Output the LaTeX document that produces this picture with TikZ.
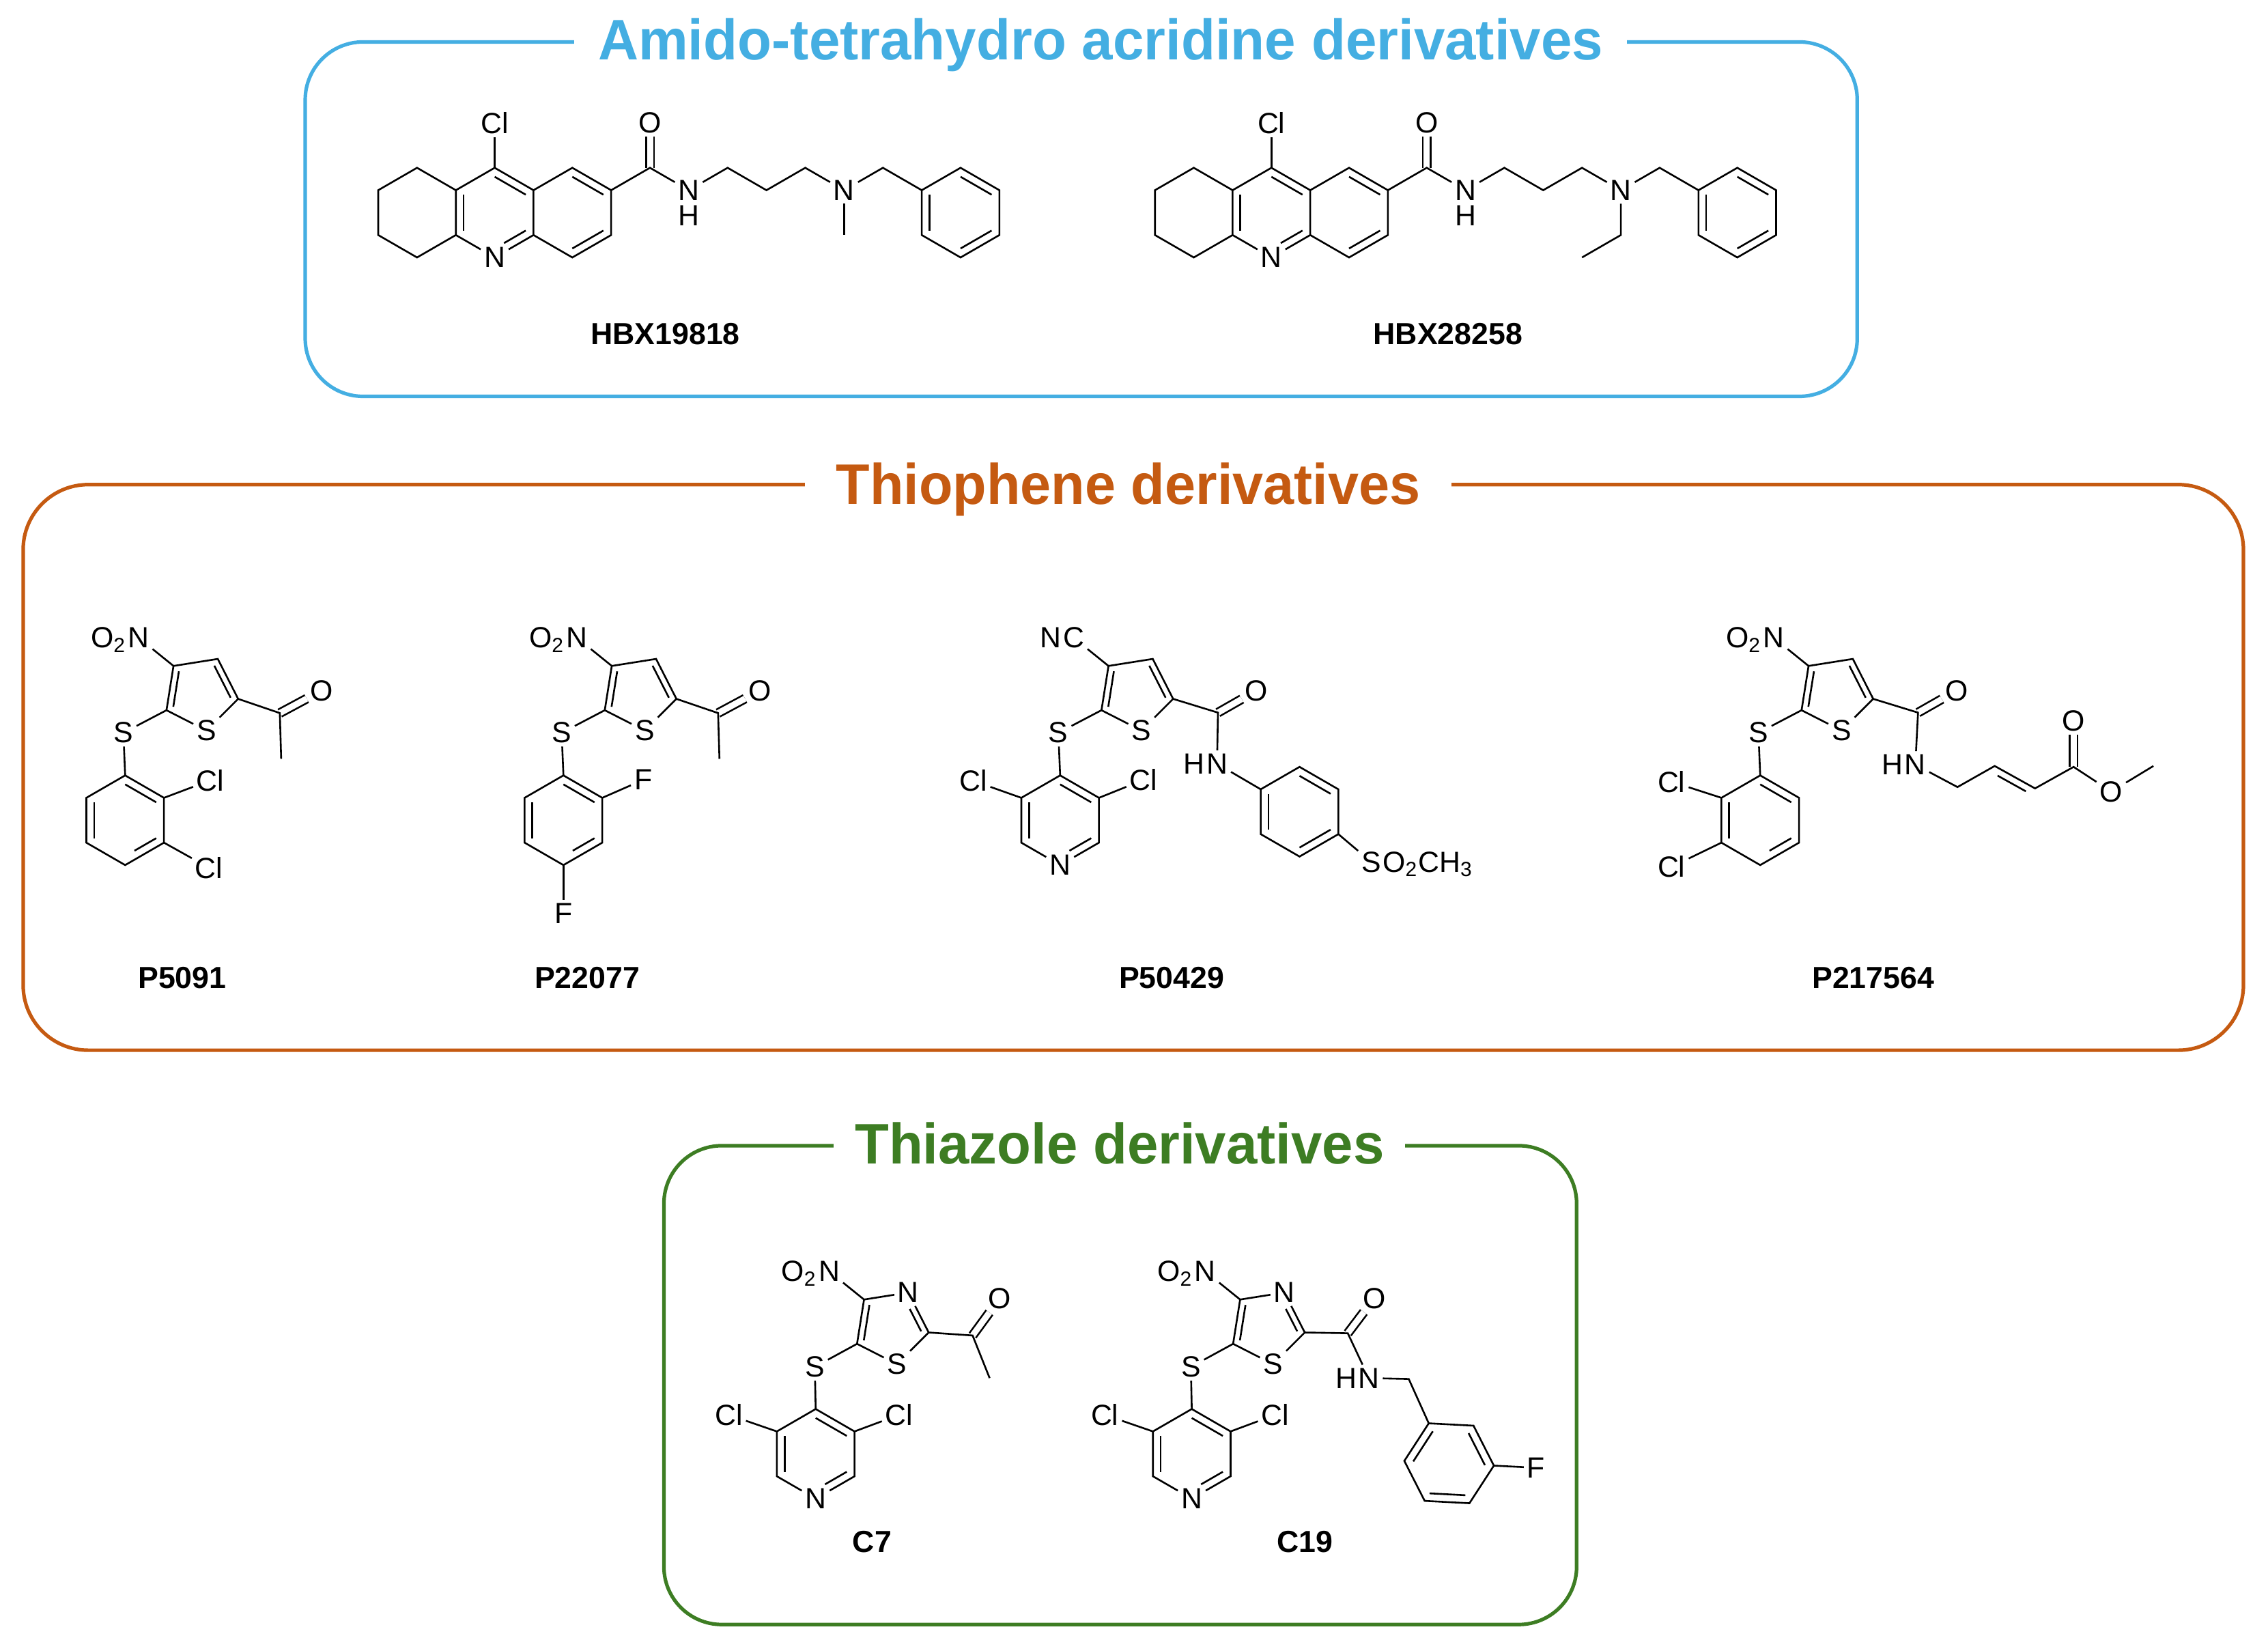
\documentclass[tikz,border=0pt]{standalone}
\usepackage{fontspec}
\usepackage{graphicx}
\setmainfont{Liberation Sans}
\usetikzlibrary{calc}
\definecolor{cblue}{RGB}{68,174,226}
\definecolor{corange}{RGB}{197,90,17}
\definecolor{cgreen}{RGB}{61,125,35}
\newcommand\hexat[4]{\coordinate (#1c) at (#2,#3);\foreach \k in {0,...,5}{\coordinate (#1\k) at ({#2+cos(#4+60*\k)},{#3+sin(#4+60*\k)});}}
\newcommand\pentat[5]{\coordinate (#1c) at (#2,#3);\foreach \k in {0,...,4}{\coordinate (#1\k) at ({#2+#4*cos(#5+72*\k)},{#3+#4*sin(#5+72*\k)});}}
\newcommand\inb[3]{\draw ($(#1)!0.2!(#3)$) -- ($(#2)!0.2!(#3)$);}
\newcommand\inbN[3]{\coordinate (tmpA) at ($(#1)!0.2!(#3)$);\coordinate (tmpB) at ($(#2)!0.2!(#3)$);\draw ($(tmpA)!0.3!(tmpB)$) -- (tmpB);}
\newcommand\ttl[2]{\resizebox{#1}{\height}{\fontsize{22.5}{26}\selectfont\bfseries #2}}
% acridine scaffold
\newcommand\acrid[1]{%
\hexat{#1m}{0}{-1}{90}\hexat{#1l}{-1.732}{-1}{90}\hexat{#1r}{1.732}{-1}{90}\hexat{#1b}{10.392}{-1}{30}%
\node[atom] (#1N) at (#1m3) {N};
\node[atom] (#1Cl) at (0,1) {Cl};
\coordinate (#1ac) at (3.464,0);
\node[atom] (#1O) at (3.464,1) {O};
\node[atom] (#1NH) at (4.33,-0.5) {N};
\node[sub,anchor=north] (#1H) at ([yshift=-0.5pt]#1NH.south) {H};
\coordinate (#1c1) at (5.196,0);
\coordinate (#1c2) at (6.062,-0.5);
\coordinate (#1c3) at (6.928,0);
\node[atom] (#1N2) at (7.794,-0.5) {N};
\coordinate (#1ch) at (8.66,0);
\draw[dbl] (#1ac) -- (#1O);
\draw (#1m0) -- (#1m1) -- (#1m2) -- (#1N) -- (#1m4) -- (#1m5) -- (#1m0);
\draw (#1m1) -- (#1l0) -- (#1l1) -- (#1l2) -- (#1l3) -- (#1m2);
\draw (#1m5) -- (#1r0) -- (#1r5) -- (#1r4) -- (#1r3) -- (#1m4);
\draw (#1m0) -- (#1Cl);
\inb{#1m0}{#1m5}{#1mc}\inb{#1m1}{#1m2}{#1mc}\inbN{#1m3}{#1m4}{#1mc}
\inb{#1r0}{#1r5}{#1rc}\inb{#1r4}{#1r3}{#1rc}
\draw (#1r5) -- (#1ac) -- (#1NH);
\draw (#1NH) -- (#1c1) -- (#1c2) -- (#1c3) -- (#1N2) -- (#1ch) -- (#1b2);
\draw (#1b0) -- (#1b1) -- (#1b2) -- (#1b3) -- (#1b4) -- (#1b5) -- cycle;
\inb{#1b1}{#1b0}{#1bc}\inb{#1b2}{#1b3}{#1bc}\inb{#1b5}{#1b4}{#1bc}}
% thiophene core
\newcommand\thcore[3]{%
\pentat{#1t}{0}{0}{0.8507}{-81}%
\node[atom] (#1S) at (#1t0) {S};
\node[atom] (#1SL) at (-1.72,-0.89) {S};
\node[atom] (#1X) at (-1.38,1.23) {#2};
\node[sub,anchor=base east] at ([xshift=1pt]#1X.base west) {#3};
\draw (#1S) -- (#1t1) -- (#1t2) -- (#1t3) -- (#1t4) -- (#1S);
\inb{#1t1}{#1t2}{#1tc}\inb{#1t3}{#1t4}{#1tc}
\draw (#1t3) -- (#1X); \draw (#1t4) -- (#1SL);}
% thiazole core
\newcommand\tzcore[1]{%
\pentat{#1t}{0}{0}{0.8507}{-81}%
\node[atom] (#1S) at (#1t0) {S};
\node[atom] (#1N) at (#1t2) {N};
\node[atom] (#1SL) at (-1.70,-0.90) {S};
\node[atom] (#1X) at (-1.38,1.23) {N};
\node[sub,anchor=base east] at ([xshift=1pt]#1X.base west) {O\textsubscript{2}};
\draw (#1S) -- (#1t1) -- (#1N) -- (#1t3) -- (#1t4) -- (#1S);
\inbN{#1t2}{#1t1}{#1tc}\inb{#1t3}{#1t4}{#1tc}
\draw (#1t3) -- (#1X); \draw (#1t4) -- (#1SL);}
% lower aryl ring (#2 defines #1aX)
\newcommand\aryl[2]{%
\hexat{#1a}{-1.68}{-2.84}{90}#2
\draw (#1a0) -- (#1a1) -- (#1a2) -- (#1aX) -- (#1a4) -- (#1a5) -- (#1a0);
\inb{#1a0}{#1a5}{#1ac}\inb{#1a1}{#1a2}{#1ac}\inbN{#1a3}{#1a4}{#1ac}
\draw (#1SL) -- (#1a0);}
\begin{document}
\begin{tikzpicture}[x=0.02cm,y=-0.02cm,line width=0.7pt,
  atom/.style={inner sep=1pt,font=\fontsize{11.5}{13}\selectfont},
  sub/.style={inner sep=0pt,font=\fontsize{11.5}{13}\selectfont},
  lbl/.style={font=\fontsize{12}{14}\selectfont\bfseries},
  dbl/.style={double,double distance=2.4pt},
  mol/.style={x=0.62cm,y=0.62cm},
  box/.style={line width=1.4pt,rounded corners=0.8cm}]
\useasboundingbox (0,0) rectangle (1568,1141);
% boxes
\draw[box,cblue] (211,29) rectangle (1284,274);
\node[fill=white,inner xsep=0.33cm,inner ysep=2pt,anchor=base,text=cblue] (t1) at (761,41.5) {\ttl{13.9cm}{Amido-tetrahydro acridine derivatives}};
\draw[box,corange,rounded corners=0.9cm] (16,335) rectangle (1551,726);
\node[fill=white,inner xsep=0.43cm,inner ysep=2pt,anchor=base,text=corange] (t2) at (780,348.5) {\ttl{8.08cm}{Thiophene derivatives}};
\draw[box,cgreen] (459,792) rectangle (1090,1123);
\node[fill=white,inner xsep=0.29cm,inner ysep=2pt,anchor=base,text=cgreen] (t3) at (774,804.5) {\ttl{7.32cm}{Thiazole derivatives}};
% HBX19818
\begin{scope}[shift={(342,116)},mol]
\acrid{HA}
\coordinate (HAme) at (7.794,-1.5);
\draw (HAN2) -- (HAme);
\end{scope}
\node[lbl] (lHA) at (460,231) {HBX19818};
% HBX28258
\begin{scope}[shift={(879,116)},mol]
\acrid{HB}
\coordinate (HBe1) at (7.794,-1.5);
\coordinate (HBe2) at (6.928,-2.0);
\draw (HBN2) -- (HBe1) -- (HBe2);
\end{scope}
\node[lbl] (lHB) at (1001,231) {HBX28258};
% P5091
\begin{scope}[shift={(138.6,479)},mol]
\thcore{PA}{N}{O\textsubscript{2}}
\aryl{PA}{\coordinate (PAaX) at (PAa3);}
\node[atom] (PACl1) at (0.22,-1.95) {Cl};
\node[atom] (PACl2) at (0.19,-3.9) {Cl};
\draw (PAa5) -- (PACl1); \draw (PAa4) -- (PACl2);
\coordinate (PAk) at (1.77,-0.45);
\node[atom] (PAO) at (2.7,0.05) {O};
\coordinate (PAme) at (1.80,-1.47);
\draw[dbl] (PAk) -- (PAO);
\draw (PAt1) -- (PAk) -- (PAme);
\end{scope}
\node[lbl] (lPA) at (126,676) {P5091};
% P22077
\begin{scope}[shift={(441.6,479)},mol]
\thcore{PB}{N}{O\textsubscript{2}}
\aryl{PB}{\coordinate (PBaX) at (PBa3);}
\node[atom] (PBF1) at (0.1,-1.94) {F};
\node[atom] (PBF2) at (-1.68,-4.92) {F};
\draw (PBa5) -- (PBF1); \draw (PBa3) -- (PBF2);
\coordinate (PBk) at (1.77,-0.45);
\node[atom] (PBO) at (2.7,0.05) {O};
\coordinate (PBme) at (1.80,-1.47);
\draw[dbl] (PBk) -- (PBO);
\draw (PBt1) -- (PBk) -- (PBme);
\end{scope}
\node[lbl] (lPB) at (406,676) {P22077};
% P50429
\begin{scope}[shift={(785,479)},mol]
\thcore{PC}{C}{N}
\aryl{PC}{\node[atom] (PCaX) at (PCa3) {N};}
\node[atom] (PCCl1) at (0.18,-1.94) {Cl};
\node[atom] (PCCl2) at (-3.62,-1.96) {Cl};
\draw (PCa5) -- (PCCl1); \draw (PCa1) -- (PCCl2);
\coordinate (PCk) at (1.84,-0.44);
\node[atom] (PCO) at (2.7,0.05) {O};
\node[atom] (PCN) at (1.82,-1.58) {N};
\node[sub,anchor=base east] at ([xshift=1pt]PCN.base west) {H};
\draw[dbl] (PCk) -- (PCO);
\draw (PCt1) -- (PCk) -- (PCN);
\hexat{PCp}{3.66}{-2.65}{30}
\draw (PCp0) -- (PCp1) -- (PCp2) -- (PCp3) -- (PCp4) -- (PCp5) -- cycle;
\inb{PCp1}{PCp0}{PCpc}\inb{PCp2}{PCp3}{PCpc}\inb{PCp5}{PCp4}{PCpc}
\draw (PCN) -- (PCp2);
\node[atom] (PCS2) at (5.26,-3.77) {S};
\node[sub,anchor=base west] at ([xshift=-1pt]PCS2.base east) {O\textsubscript{2}CH\textsubscript{3}};
\draw (PCp5) -- (PCS2);
\end{scope}
\node[lbl] (lPC) at (810,676) {P50429};
% P217564
\begin{scope}[shift={(1269,479)},mol]
\thcore{PD}{N}{O\textsubscript{2}}
\aryl{PD}{\coordinate (PDaX) at (PDa3);}
\node[atom] (PDCl1) at (-3.66,-1.98) {Cl};
\node[atom] (PDCl2) at (-3.66,-3.88) {Cl};
\draw (PDa1) -- (PDCl1); \draw (PDa2) -- (PDCl2);
\coordinate (PDk) at (1.84,-0.44);
\node[atom] (PDO) at (2.7,0.05) {O};
\node[atom] (PDN) at (1.78,-1.6) {N};
\node[sub,anchor=base east] at ([xshift=1pt]PDN.base west) {H};
\draw[dbl] (PDk) -- (PDO);
\draw (PDt1) -- (PDk) -- (PDN);
\coordinate (PDc1) at (2.72,-2.1);
\coordinate (PDc2) at (3.55,-1.63);
\coordinate (PDc3) at (4.45,-2.13);
\coordinate (PDc4) at (5.31,-1.65);
\node[atom] (PDO2) at (5.31,-0.62) {O};
\node[atom] (PDO3) at (6.15,-2.2) {O};
\coordinate (PDme) at (7.09,-1.63);
\draw[dbl] (PDc4) -- (PDO2);
\draw (PDN) -- (PDc1) -- (PDc2) -- (PDc3) -- (PDc4) -- (PDO3) -- (PDme);
\draw ($(PDc2)!0.15!(PDc3)+(-0.07,-0.14)$) -- ($(PDc3)!0.15!(PDc2)+(-0.07,-0.14)$);
\end{scope}
\node[lbl] (lPD) at (1295,676) {P217564};
% C7
\begin{scope}[shift={(616,917)},mol]
\tzcore{CA}
\aryl{CA}{\node[atom] (CAaX) at (CAa3) {N};}
\node[atom] (CACl1) at (0.18,-1.97) {Cl};
\node[atom] (CACl2) at (-3.62,-1.97) {Cl};
\draw (CAa5) -- (CACl1); \draw (CAa1) -- (CACl2);
\coordinate (CAk) at (1.82,-0.2);
\node[atom] (CAO) at (2.42,0.62) {O};
\coordinate (CAme) at (2.2,-1.15);
\draw[dbl] (CAk) -- (CAO);
\draw (CAt1) -- (CAk) -- (CAme);
\end{scope}
\node[lbl] (lCA) at (603,1066) {C7};
% C19
\begin{scope}[shift={(876,917)},mol]
\tzcore{CB}
\aryl{CB}{\node[atom] (CBaX) at (CBa3) {N};}
\node[atom] (CBCl1) at (0.18,-1.97) {Cl};
\node[atom] (CBCl2) at (-3.62,-1.97) {Cl};
\draw (CBa5) -- (CBCl1); \draw (CBa1) -- (CBCl2);
\coordinate (CBk) at (1.80,-0.15);
\node[atom] (CBO) at (2.39,0.63) {O};
\node[atom] (CBN) at (2.27,-1.15) {N};
\node[sub,anchor=base east] at ([xshift=1pt]CBN.base west) {H};
\draw[dbl] (CBk) -- (CBO);
\draw (CBt1) -- (CBk) -- (CBN);
\coordinate (CBch) at (3.16,-1.17);
\hexat{CBp}{4.06}{-3.05}{117}
\draw (CBp0) -- (CBp1) -- (CBp2) -- (CBp3) -- (CBp4) -- (CBp5) -- cycle;
\inb{CBp0}{CBp1}{CBpc}\inb{CBp5}{CBp4}{CBpc}\inb{CBp3}{CBp2}{CBpc}
\draw (CBN) -- (CBch) -- (CBp0);
\node[atom] (CBF) at (6.0,-3.15) {F};
\draw (CBp4) -- (CBF);
\end{scope}
\node[lbl] (lCB) at (902,1066) {C19};
\end{tikzpicture}
\end{document}
